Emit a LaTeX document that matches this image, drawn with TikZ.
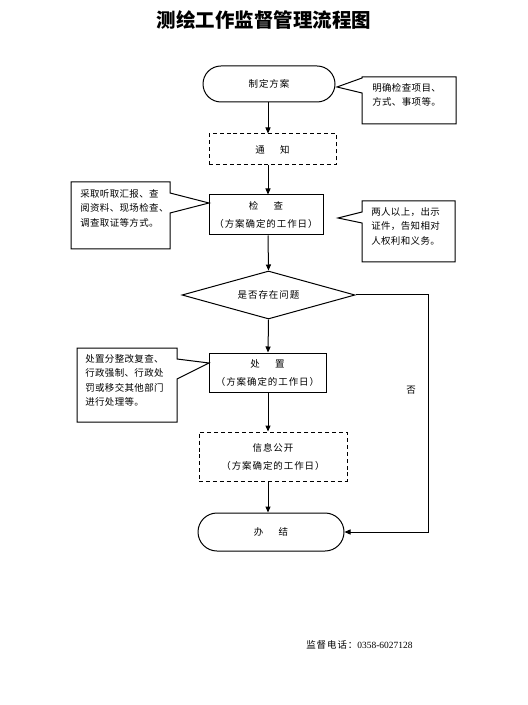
\documentclass[tikz,border=0pt]{standalone}
\usepackage{fontspec}
\setmainfont{Liberation Serif}
\newfontfamily\cjk[LetterSpace=10]{Noto Sans CJK SC}
\newfontfamily\cjknote[LetterSpace=4]{Noto Sans CJK SC}
\newfontfamily\cjktitle{Noto Sans CJK SC}
\usetikzlibrary{shapes.geometric,arrows.meta}
\tikzset{
  txt/.style={font=\cjk\fontsize{7.1pt}{8.5pt}\selectfont, inner sep=0pt},
  term/.style={draw, line width=0.75pt, rounded corners=#1, fill=white, txt},
  solidbox/.style={draw, line width=0.75pt, fill=white, txt, align=center},
  dashbox/.style={draw, dashed, dash pattern=on 3pt off 2.2pt, line width=0.75pt, fill=white, txt, align=center},
  decide/.style={draw, diamond, line width=0.75pt, shape aspect=3.6, minimum width=129.75pt, minimum height=36pt, txt},
  conn/.style={line width=0.75pt, -{Triangle[length=4.5pt,width=3.8pt]}},
  calloutline/.style={draw, line width=0.75pt, fill=white},
  note/.style={inner sep=0pt, align=left, anchor=north west, font=\cjknote\fontsize{7.1pt}{10.9pt}\selectfont},
}
\begin{document}
\begin{tikzpicture}[x=0.75pt,y=-0.75pt]
\useasboundingbox (0,0) rectangle (527,705);
% title
\node[inner sep=0pt, font=\cjktitle\bfseries\fontsize{14.6pt}{16pt}\selectfont] (title) at (264,20) {测绘工作监督管理流程图};
% main nodes
\node[term=13.5pt, minimum width=99pt, minimum height=27pt] (start) at (269,84) {制定方案};
\node[dashbox, minimum width=95.25pt, minimum height=23.25pt] (notice) at (272.5,149.5) {通\hspace{1.6em}知};
\node[solidbox, minimum width=85.5pt, minimum height=30pt, font=\cjk\fontsize{7.1pt}{13.5pt}\selectfont] (check) at (266,215) {检\hspace{1.6em}查\\（方案确定的工作日）};
\node[decide] (q) at (268.5,295) {是否存在问题};
\node[solidbox, minimum width=87.75pt, minimum height=29.25pt, font=\cjk\fontsize{7.1pt}{13.5pt}\selectfont] (handle) at (267.5,372.5) {处\hspace{1.6em}置\\（方案确定的工作日）};
\node[dashbox, minimum width=111pt, minimum height=36.75pt, font=\cjk\fontsize{7.1pt}{13.5pt}\selectfont] (pub) at (273,456.5) {信息公开\\（方案确定的工作日）};
\node[term=14.25pt, minimum width=109.5pt, minimum height=28.5pt] (done) at (271,532) {办\hspace{1.6em}结};
\coordinate (spine) at (268,0);
\coordinate (rt) at (428,0);
% connectors
\draw[conn] (start.south -| spine) -- (notice.north -| spine);
\draw[conn] (notice.south -| spine) -- (check.north -| spine);
\draw[conn] (check.south -| spine) -- (q.north);
\draw[conn] (q.south) -- (handle.north -| spine);
\draw[conn] (handle.south -| spine) -- (pub.north -| spine);
\draw[conn] (pub.south -| spine) -- (done.north -| spine);
\draw[conn] (q.east) -- (q.east -| rt) -- (done.east -| rt) -- (done.east);
\node[txt] (no) at (411,390) {否};
% callouts
\draw[calloutline] (362,77) -- (456,77) -- (456,124) -- (362,124) -- (362,93) -- (337,87) -- (362,78) -- cycle;
\node[note] (n1) at (372,83) {明确检查项目、\\方式、事项等。};
\draw[calloutline] (71,182) -- (170,182) -- (170,193) -- (209,203) -- (170,213) -- (170,249) -- (71,249) -- cycle;
\node[note] (n2) at (80,189) {采取听取汇报、查\\阅资料、现场检查、\\调查取证等方式。};
\draw[calloutline] (362,201) -- (455,201) -- (455,262) -- (362,262) -- (362,223) -- (338,218) -- (362,212) -- cycle;
\node[note] (n3) at (371,207) {两人以上，出示\\证件，告知相对\\人权利和义务。};
\draw[calloutline] (77,348) -- (177,348) -- (177,359) -- (209,363) -- (177,379) -- (177,422) -- (77,422) -- cycle;
\node[note] (n4) at (85,354) {处置分整改复查、\\行政强制、行政处\\罚或移交其他部门\\进行处理等。};
% footer
\node[inner sep=0pt, anchor=west, font=\fontsize{7.1pt}{8pt}\selectfont] (tel) at (306,645) {{\cjk 监督电话：}0358-6027128};
\end{tikzpicture}
\end{document}
